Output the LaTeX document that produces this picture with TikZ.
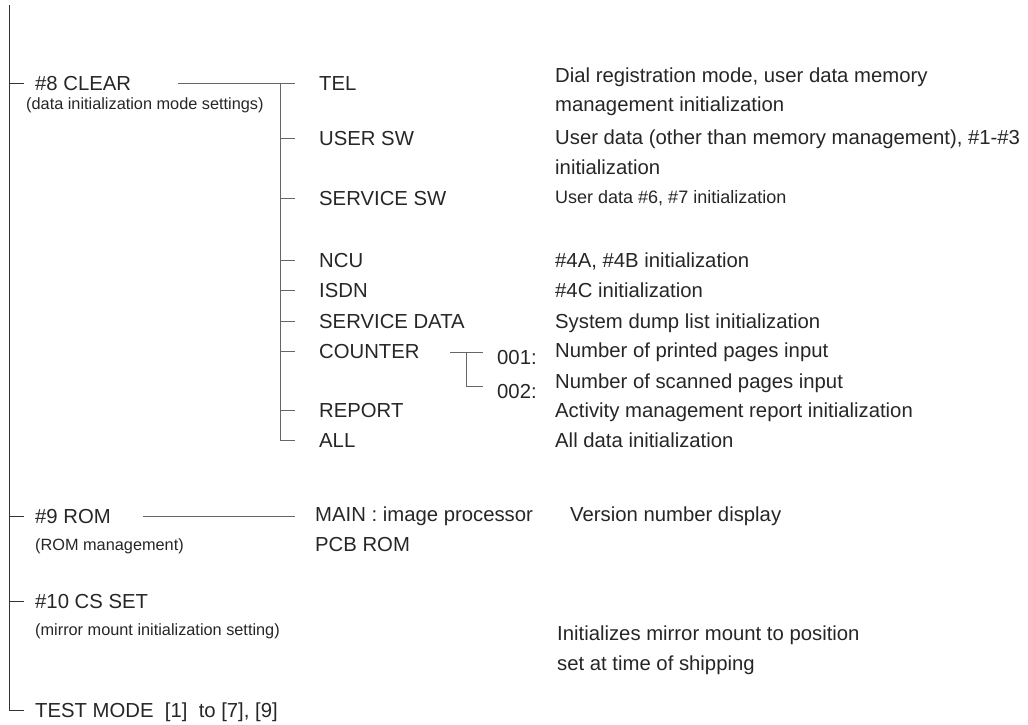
\documentclass[tikz,border=0pt]{standalone}
\usepackage{fontspec}
\setmainfont{Liberation Sans}
\begin{document}
\begin{tikzpicture}[x=1pt,y=-1pt,
  txt/.style={anchor=west,inner sep=0pt,text height=14pt,text depth=0pt,font=\fontsize{20.3}{24}\selectfont,text=black!85},
  sm/.style={anchor=west,inner sep=0pt,text height=11.5pt,text depth=0pt,font=\fontsize{16.3}{20}\selectfont,text=black!85},
  md/.style={anchor=west,inner sep=0pt,text height=12.5pt,text depth=0pt,font=\fontsize{18}{22}\selectfont,text=black!85},
  trunk/.style={draw=black!80,line width=1pt},
  br/.style={draw=black!60,line width=1pt}]
\useasboundingbox (0,0) rectangle (1028,725);
% left level
\node[txt] (c8) at (35,83) {\#8 CLEAR};
\node[sm] (c8s) at (26,104) {(data initialization mode settings)};
\node[txt] (r9) at (35,516) {\#9 ROM};
\node[sm] (r9s) at (35,545) {(ROM management)};
\node[txt] (c10) at (35,601) {\#10 CS SET};
\node[sm] (c10s) at (35,630) {(mirror mount initialization setting)};
\node[txt] (tm) at (35,710) {TEST MODE~ [1]~ to [7], [9]};
\coordinate (top) at (9,5);
\draw[trunk] (top) |- ([xshift=-11pt]tm.west);
\foreach \n in {c8,r9,c10} \draw[trunk] (9,0 |- \n.west) -- ([xshift=-11pt]\n.west);
% CLEAR items
\node[txt] (tel) at (319,83) {TEL};
\node[txt] (usw) at (319,138) {USER SW};
\node[txt] (ssw) at (319,198) {SERVICE SW};
\node[txt] (ncu) at (319,260) {NCU};
\node[txt] (isdn) at (319,290) {ISDN};
\node[txt] (sdata) at (319,321) {SERVICE DATA};
\node[txt] (cnt) at (319,351) {COUNTER};
\node[txt] (rep) at (319,410) {REPORT};
\node[txt] (all) at (319,440) {ALL};
\coordinate (cl0) at (178,83);
\coordinate (trk) at (280,83);
\draw[br] (cl0) -- ([xshift=-24pt]tel.west);
\draw[br] (trk) |- ([xshift=-24pt]all.west);
\foreach \n in {usw,ssw,ncu,isdn,sdata,cnt,rep} \draw[br] (280,0 |- \n.west) -- ([xshift=-24pt]\n.west);
% descriptions
\node[txt] (d1) at (555,75) {Dial registration mode, user data memory};
\node[txt] (d1b) at (555,104) {management initialization};
\node[txt] (d2) at (555,137) {User data (other than memory management), \#1-\#3};
\node[txt] (d2b) at (555,167) {initialization};
\node[md] (d3) at (555,197) {User data \#6, \#7 initialization};
\node[txt] (d4) at (555,260) {\#4A, \#4B initialization};
\node[txt] (d5) at (555,290) {\#4C initialization};
\node[txt] (d6) at (555,321) {System dump list initialization};
\node[txt] (d7) at (555,350) {Number of printed pages input};
\node[txt] (d8) at (555,381) {Number of scanned pages input};
\node[txt] (d9) at (555,410) {Activity management report initialization};
\node[txt] (d10) at (555,440) {All data initialization};
% counter sub
\node[txt] (n1) at (497,357) {001:};
\node[txt] (n2) at (497,391) {002:};
\coordinate (cs) at (450,352);
\coordinate (cv) at (466,352);
\draw[br] (cs) -- ++(33,0);
\draw[br] (cv) |- ++(17,34);
% ROM
\node[txt] (main) at (315,514) {MAIN : image processor};
\node[txt] (pcb) at (315,544) {PCB ROM};
\node[txt] (ver) at (570,514) {Version number display};
\coordinate (rl) at (143,516);
\draw[br] (rl) -- ([xshift=-20pt]main.west |- rl);
% CS SET
\node[txt] (ini1) at (557,633) {Initializes mirror mount to position};
\node[txt] (ini2) at (557,663) {set at time of shipping};
\end{tikzpicture}
\end{document}
